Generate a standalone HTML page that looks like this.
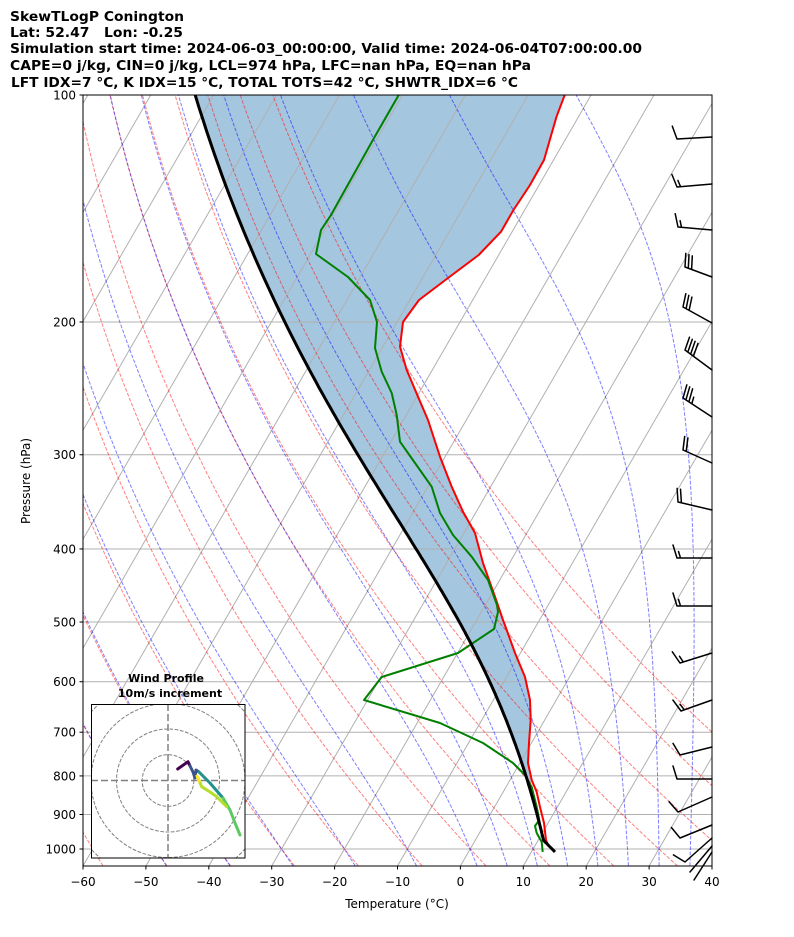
<!DOCTYPE html>
<html><head><meta charset="utf-8"><style>
html,body{margin:0;padding:0;background:#fff;}
svg{display:block;font-family:"DejaVu Sans","Liberation Sans",sans-serif;}
</style></head><body>
<svg id="s" width="794" height="937" viewBox="0 0 794 937" xmlns="http://www.w3.org/2000/svg">
<rect width="794" height="937" fill="#fff"/>
<g font-weight="bold" font-size="13" fill="#000">
<text x="10" y="21" textLength="174" lengthAdjust="spacingAndGlyphs">SkewTLogP Conington</text>
<text x="10" y="37" xml:space="preserve" textLength="173" lengthAdjust="spacingAndGlyphs">Lat: 52.47   Lon: -0.25</text>
<text x="10" y="53" textLength="632" lengthAdjust="spacingAndGlyphs">Simulation start time: 2024-06-03_00:00:00, Valid time: 2024-06-04T07:00:00.00</text>
<text x="10" y="70" textLength="521" lengthAdjust="spacingAndGlyphs">CAPE=0 j/kg, CIN=0 j/kg, LCL=974 hPa, LFC=nan hPa, EQ=nan hPa</text>
<text x="11" y="87" textLength="507" lengthAdjust="spacingAndGlyphs">LFT IDX=7 °C, K IDX=15 °C, TOTAL TOTS=42 °C, SHWTR_IDX=6 °C</text>
</g>
<defs><clipPath id="cp"><rect x="83" y="95" width="629" height="771"/></clipPath></defs>
<g id="plot" clip-path="url(#cp)"></g>
<g id="barbs" stroke="#000" stroke-width="1.5" fill="none" stroke-linecap="round"></g>
<rect x="83" y="95" width="629" height="771" fill="none" stroke="#000" stroke-width="1"/>
<g id="ticks" stroke="#000" stroke-width="1"></g>
<g id="labels" font-size="12" fill="#000"></g>
<text x="397" y="908" font-size="12" text-anchor="middle">Temperature (°C)</text>
<text transform="translate(30,481) rotate(-90)" font-size="12" text-anchor="middle">Pressure (hPa)</text>
<g>
<rect x="91.5" y="704.5" width="153.5" height="153.5" fill="#fff"/>
<defs><clipPath id="hc"><rect x="91.5" y="704.5" width="153.5" height="153.5"/></clipPath></defs>
<g clip-path="url(#hc)" fill="none" stroke="#808080" stroke-width="1" stroke-dasharray="3.7,1.6">
<circle cx="168" cy="780.5" r="25.8"/><circle cx="168" cy="780.5" r="51.5"/><circle cx="168" cy="780.5" r="77"/><circle cx="168" cy="780.5" r="103"/>
<line x1="168" y1="704" x2="168" y2="858" stroke-width="1.5" stroke-dasharray="7,3"/>
<line x1="91" y1="780.5" x2="245" y2="780.5" stroke-width="1.5" stroke-dasharray="7,3"/>
</g>
<g fill="none" stroke-width="3" stroke-linecap="round" stroke-linejoin="round">
<polyline points="177.7,769 188,761.7 190,766" stroke="#440154"/>
<polyline points="190,766 193,772 195,778 196,770 199,772" stroke="#3b528b"/>
<polyline points="199,772 204,777 210,783 223,798" stroke="#21918c"/>
<polyline points="223,798 230,810 235,823 240,835" stroke="#5ec962"/>
<polyline points="198,778 201.7,786.7 210,792 216.7,796.7 226.7,806.7" stroke="#b5de2b"/>
<polyline points="197,776 199,781" stroke="#fde725"/>
</g>
<rect x="91.5" y="704.5" width="153.5" height="153.5" fill="none" stroke="#000" stroke-width="1"/>
<text x="166" y="682" font-size="11" font-weight="bold" text-anchor="middle">Wind Profile</text>
<text x="170" y="697" font-size="11" font-weight="bold" text-anchor="middle">10m/s increment</text>
</g>
</svg>
<script>
(function(){
var NS="http://www.w3.org/2000/svg";
function Y(p){return 95+754*Math.log10(p/100);}
function X(T,p){return 460.4+6.29*T+(866-Y(p))*0.5774;}
var plot=document.getElementById('plot');
function el(par,tag,attrs){var e=document.createElementNS(NS,tag);for(var k in attrs)e.setAttribute(k,attrs[k]);par.appendChild(e);return e;}
function pl(pts,attrs){attrs.points=pts.map(function(q){return q[0].toFixed(1)+','+q[1].toFixed(1);}).join(' ');attrs.fill=attrs.fill||'none';return el(plot,'polyline',attrs);}
var PB=1053;
function es(Tc){return 6.112*Math.exp(17.67*Tc/(Tc+243.5));}
var Rd=287.04749,Cp=1004.666,Lv=2.50084e6,eps=0.621957;
function dTdp(p,TK){var e=es(TK-273.15);var rs=eps*e/(p-e);return (1/p)*(Rd*TK+Lv*rs)/(Cp+Lv*Lv*rs*eps/(Rd*TK*TK));}
function moist(p0,T0C,p1,step){var res=[[p0,T0C]];var T=T0C+273.15,p=p0;var n=Math.ceil(Math.abs(p1-p0)/step);var h=(p1-p0)/n;
 for(var i=0;i<n;i++){var k1=dTdp(p,T),k2=dTdp(p+h/2,T+h/2*k1),k3=dTdp(p+h/2,T+h/2*k2),k4=dTdp(p+h,T+h*k3);T+=h/6*(k1+2*k2+2*k3+k4);p+=h;res.push([p,T-273.15]);}return res;}
var red=[[564.7,95],[556.5,116.7],[544,160],[530,185],[513.5,210],[501,231.7],[478.7,255],[448,278],[419,300],[403,322],[400,346.7],[406.7,370],[418,396.7],[428,420],[440,456.7],[451.7,486.7],[463,511.7],[475,533],[483,563],[495,596.7],[503,620],[506.7,630],[515,653],[525,677],[530,700],[530.7,720],[529,743],[528,763],[531.7,780],[536.7,792],[540,807],[544,823],[546,840],[548,845]];
var green=[[398.7,95],[374,138],[331,215],[321,230],[316,254],[348,277],[370,300],[377,322],[375,348],[381.7,371.7],[391.7,393],[396.7,415],[400,441.7],[415,463],[431.7,486.7],[440,513],[453,535],[471.7,556.7],[488,580],[497,605],[498,612],[494,629],[458,653],[381.7,677],[364,700],[440,723],[483,743],[513,763],[525,775],[531.7,787],[536.7,807],[539.3,820],[535,826],[536.7,833],[541.7,842],[542.7,852]];
var ps=1009,Ts=13.75,plcl=974;var th=(Ts+273.15)*Math.pow(1000/ps,0.2857);
var parcel=[];for(var p=ps;p>=plcl;p-=5){parcel.push([p,th*Math.pow(p/1000,0.2857)-273.15]);}
var Tl=th*Math.pow(plcl/1000,0.2857)-273.15;parcel.push([plcl,Tl]);
moist(plcl,Tl,100,4).forEach(function(q){parcel.push(q);});
var parpx=parcel.map(function(q){return [X(q[1],q[0]),Y(q[0])];});
var fillpts=red.filter(function(q){return q[1]<=785;});
var back=parpx.filter(function(q){return q[1]<=785;});
pl(fillpts.concat(back),{fill:'#a4c6df',stroke:'none'});
[100,200,300,400,500,600,700,800,900,1000].forEach(function(p){var y=Y(p);el(plot,'line',{x1:83,x2:712,y1:y,y2:y,stroke:'#b0b0b0','stroke-width':1});});
for(var T=-170;T<=40;T+=10){el(plot,'line',{x1:X(T,PB),y1:Y(PB),x2:X(T,100),y2:Y(100),stroke:'#b0b0b0','stroke-width':1});}
for(var t0=-60;t0<=60;t0+=10){var pts=[];for(var p=PB;p>=100;p-=10){pts.push([X((t0+273.15)*Math.pow(p/1000,0.2857)-273.15,p),Y(p)]);}
 pts.push([X((t0+273.15)*Math.pow(0.1,0.2857)-273.15,100),Y(100)]);
 pl(pts,{stroke:'#ff0000','stroke-opacity':0.5,'stroke-width':1,'stroke-dasharray':'3.7,1.6'});}
[-50,-40,-30,-20,-10,0,5,10,15,20,25,30,35,40,45].forEach(function(t0){
 var up=moist(1000,t0,100,5),dn=moist(1000,t0,PB,5);var all=dn.reverse().concat(up.slice(1));
 pl(all.map(function(q){return [X(q[1],q[0]),Y(q[0])];}),{stroke:'#0000ff','stroke-opacity':0.5,'stroke-width':1,'stroke-dasharray':'3.7,1.6'});});
pl(red,{stroke:'#ff0000','stroke-width':2,'stroke-linejoin':'round'});
pl(green,{stroke:'#008000','stroke-width':2,'stroke-linejoin':'round'});
pl(parpx,{stroke:'#000','stroke-width':3,'stroke-linejoin':'round'});
var tk=document.getElementById('ticks'),lb=document.getElementById('labels');
[100,200,300,400,500,600,700,800,900,1000].forEach(function(p){var y=Y(p);el(tk,'line',{x1:79.5,x2:83,y1:y,y2:y});
 var t=el(lb,'text',{x:76,y:y+4.5,'text-anchor':'end'});t.textContent=p;});
for(var T=-60;T<=40;T+=10){var x=460.4+6.29*T;el(tk,'line',{x1:x,x2:x,y1:866,y2:869.5});
 var t=el(lb,'text',{x:x,y:886,'text-anchor':'middle'});t.textContent=(T<0?'\u2212':'')+Math.abs(T);}
var bg=document.getElementById('barbs');
var barbs=[
[712,137,677,139,[1]],[712,184,677,187,[1,0.5]],[712,230,678,227,[1,0.5]],
[712,277,685,267,[1,1,1]],[712,323,683,307,[1,1,1]],[712,370,685,350,[1,1,1,1]],
[712,417,683,398,[1,1,1,0.5]],[712,463,683,450,[1,1]],[712,510,678,502,[1,1]],
[712,558,677,558,[1,0.5]],[712,606,677,606,[1,0.5]],[712,653,680,663,[1,0.5]],
[712,700,681,711,[1,0.5]],[712,747,680,755,[1]],[712,779,677,779,[1]],
[712,797,678,812,[1]],[712,825,680,838,[1]],[712,838,685,862,[1]],[712,846,690,872,[]],[712,852,694,880,[]]];
barbs.forEach(function(b){var ax=b[0],ay=b[1],tx=b[2],ty=b[3];var dx=tx-ax,dy=ty-ay,L=Math.hypot(dx,dy);var ux=dx/L,uy=dy/L,nx=-uy,ny=ux;
 var d='M'+ax+','+ay+'L'+tx+','+ty;
 b[4].forEach(function(f,i){var sx=tx-ux*3.5*i,sy=ty-uy*3.5*i;var ex=sx+(4*ux+13*nx)*f,ey=sy+(4*uy+13*ny)*f;d+='M'+sx.toFixed(1)+','+sy.toFixed(1)+'L'+ex.toFixed(1)+','+ey.toFixed(1);});
 el(bg,'path',{d:d});});
})();
</script>
</body></html>
